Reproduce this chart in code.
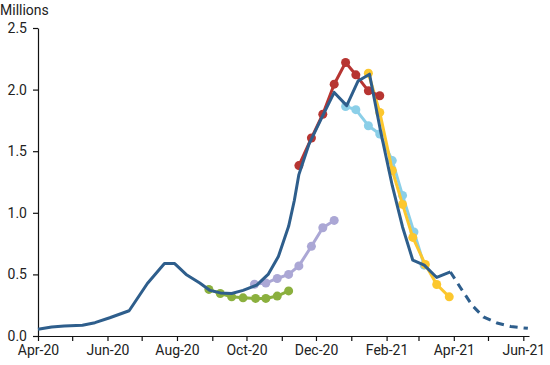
<!DOCTYPE html>
<html>
<head>
<meta charset="utf-8">
<script src="https://cdn.jsdelivr.net/npm/d3@7"></script>
<style>
  body { margin: 0; background: #fff; }
  text { font-family: Roboto, "Liberation Sans", sans-serif; }
</style>
</head>
<body>
<div id="chart"></div>
<script>
// main (actual) series
var mainDates = ["2020-04-01","2020-04-13","2020-04-24","2020-05-10","2020-05-21","2020-06-03","2020-06-20",
  "2020-07-06","2020-07-21","2020-07-30","2020-08-09","2020-08-21","2020-08-30","2020-09-08","2020-09-18",
  "2020-09-28","2020-10-10","2020-10-20","2020-10-29","2020-11-07","2020-11-12","2020-11-16","2020-11-25","2020-12-06",
  "2020-12-17","2020-12-28","2021-01-07","2021-01-17","2021-01-27","2021-02-06","2021-02-15","2021-02-24",
  "2021-03-06","2021-03-17","2021-03-29"];
var mainValues = [0.054,0.073,0.081,0.087,0.108,0.148,0.205,
  0.426,0.588,0.588,0.50,0.43,0.37,0.35,0.345,
  0.37,0.413,0.50,0.645,0.89,1.10,1.31,1.56,1.77,
  1.977,1.87,2.07,2.125,1.65,1.22,0.885,0.615,
  0.575,0.475,0.52];

// projection (dashed)
var projDates = ["2021-03-29","2021-04-07","2021-04-17","2021-04-27","2021-05-09","2021-05-21","2021-06-05"];
var projValues = [0.52,0.39,0.25,0.155,0.105,0.077,0.062];

// earlier forecasts
var greenDates = ["2020-08-29","2020-09-08","2020-09-18","2020-09-28","2020-10-09","2020-10-18","2020-10-28","2020-11-07"];
var greenValues = [0.378,0.345,0.318,0.31,0.305,0.305,0.324,0.366];

var lavenderDates = ["2020-10-08","2020-10-18","2020-10-28","2020-11-07","2020-11-16","2020-11-27","2020-12-07","2020-12-17"];
var lavenderValues = [0.42,0.43,0.467,0.50,0.569,0.728,0.879,0.938];

var redDates = ["2020-11-16","2020-11-27","2020-12-07","2020-12-17","2020-12-27","2021-01-05","2021-01-16","2021-01-26"];
var redValues = [1.383,1.607,1.80,2.044,2.22,2.12,1.99,1.95];

var skyDates = ["2020-12-27","2021-01-05","2021-01-16","2021-01-26","2021-02-06","2021-02-15","2021-02-25","2021-03-06"];
var skyValues = [1.863,1.837,1.707,1.64,1.424,1.141,0.844,0.575];

var yellowDates = ["2021-01-16","2021-01-26","2021-02-06","2021-02-15","2021-02-24","2021-03-07","2021-03-17","2021-03-28"];
var yellowValues = [2.133,1.815,1.343,1.068,0.80,0.58,0.418,0.318];

var yTicks = [0, 0.5, 1.0, 1.5, 2.0, 2.5];
var xDomain = ["2020-04-01", "2021-06-06"];

var width = 550;
var height = 365;
var margin = { top: 28, right: 21, bottom: 29, left: 38 };
var fontSize = "14px";

var parseDate = d3.timeParse("%Y-%m-%d");

function zipSeries(dates, values) {
  return dates.map(function (d, i) {
    return { date: parseDate(d), value: values[i] };
  });
}

/* Scale */
var xScale = d3
  .scaleTime()
  .domain(xDomain.map(parseDate))
  .range([margin.left, width - margin.right]);

var yScale = d3
  .scaleLinear()
  .domain([0, 2.5])
  .range([height - margin.bottom, margin.top]);

var svg = d3
  .select("#chart")
  .append("svg")
  .attr("width", width)
  .attr("height", height);

var line = d3
  .line()
  .x((d) => xScale(d.date))
  .y((d) => yScale(d.value));

/* Axes */
var xAxis = d3
  .axisBottom(xScale)
  .ticks(d3.timeMonth.every(1))
  .tickSizeInner(5)
  .tickSizeOuter(0)
  .tickPadding(4)
  .tickFormat(function (d) {
    return d.getMonth() % 2 === 1 ? d3.timeFormat("%b-%y")(d) : "";
  });

var yAxis = d3
  .axisLeft(yScale)
  .tickValues(yTicks)
  .tickSizeInner(5)
  .tickSizeOuter(0)
  .tickPadding(6)
  .tickFormat(d3.format(".1f"));

var gx = svg
  .append("g")
  .attr("transform", `translate(0, ${height - margin.bottom})`)
  .call(xAxis);

var gy = svg
  .append("g")
  .attr("transform", `translate(${margin.left}, 0)`)
  .call(yAxis);

[gx, gy].forEach(function (g) {
  g.selectAll("text").attr("font-size", fontSize).attr("fill", "#222").attr("font-family", "Roboto");
  g.selectAll("path, line").attr("stroke", "#111").attr("stroke-width", 1.2);
});

svg
  .append("text")
  .attr("x", 0)
  .attr("y", 15)
  .attr("font-size", fontSize)
  .attr("fill", "#222")
  .text("Millions");

/* Forecast series with markers */
var series = [
  { data: zipSeries(lavenderDates, lavenderValues), color: "#aba7d5" },
  { data: zipSeries(greenDates, greenValues), color: "#8bb03e" },
  { data: zipSeries(skyDates, skyValues), color: "#8bcfe8" },
  { data: zipSeries(yellowDates, yellowValues), color: "#fcc72e" },
  { data: zipSeries(redDates, redValues), color: "#b73532" }
];

var groups = svg
  .selectAll(".forecast")
  .data(series)
  .enter()
  .append("g")
  .attr("class", "forecast");

groups
  .append("path")
  .attr("d", (d) => line(d.data))
  .attr("fill", "none")
  .attr("stroke", (d) => d.color)
  .attr("stroke-width", 3)
  .attr("stroke-linejoin", "round");

groups
  .selectAll("circle")
  .data((d) => d.data.map((p) => Object.assign({ color: d.color }, p)))
  .enter()
  .append("circle")
  .attr("cx", (d) => xScale(d.date))
  .attr("cy", (d) => yScale(d.value))
  .attr("r", 4.5)
  .attr("fill", (d) => d.color);

/* Main line and projection */
svg
  .append("path")
  .attr("d", line(zipSeries(projDates, projValues)))
  .attr("fill", "none")
  .attr("stroke", "#2e5e8c")
  .attr("stroke-width", 3)
  .attr("stroke-dasharray", "8,6");

svg
  .append("path")
  .attr("d", line(zipSeries(mainDates, mainValues)))
  .attr("fill", "none")
  .attr("stroke", "#2e5e8c")
  .attr("stroke-width", 3)
  .attr("stroke-linejoin", "round");
</script>
</body>
</html>
